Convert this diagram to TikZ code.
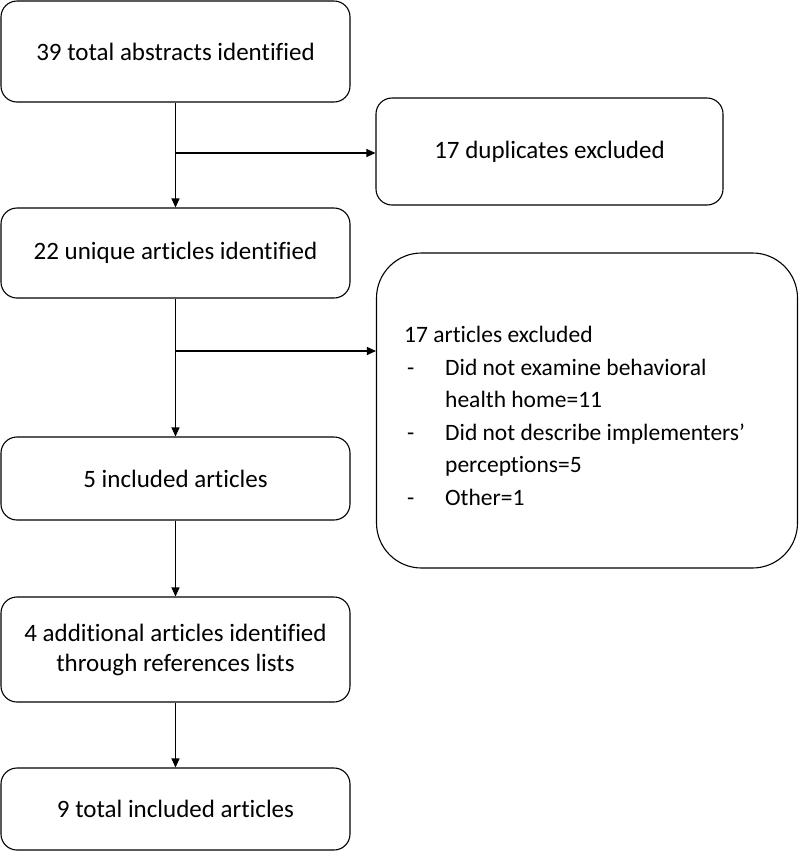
\documentclass[tikz,border=0pt]{standalone}
\usepackage{fontspec}
\setmainfont{Carlito}[Ligatures=CommonOff]
\usetikzlibrary{arrows.meta}
\begin{document}
\begin{tikzpicture}[x=1pt,y=-1pt,
  box/.style={draw=black,line width=1.1pt,rounded corners=16pt,align=center,inner sep=0pt,
    font=\fontsize{25}{30}\selectfont},
  arr/.style={draw=black,line width=1.1pt,-{Triangle[length=9pt,width=8pt]}},
  lst/.style={align=left,inner sep=0pt,font=\fontsize{23.5}{32.5}\selectfont}]
\useasboundingbox (0,0) rectangle (800,852);
\node[box,minimum width=349pt,minimum height=101pt] (b1) at (175.5,51.5) {39 total abstracts identified};
\node[box,minimum width=347pt,minimum height=107pt] (dup) at (549.5,151.5) {17 duplicates excluded};
\node[box,minimum width=349pt,minimum height=90pt] (b2) at (175.5,253) {22 unique articles identified};
\node[box,rounded corners=45pt,minimum width=421pt,minimum height=315pt] (excl) at (587,410.5) {};
\node[lst,anchor=west] (excltext) at (404,416) {17 articles excluded\\
\makebox[41pt][l]{\hspace{3pt}-}Did not examine behavioral\\
\hspace*{41pt}health home=11\\
\makebox[41pt][l]{\hspace{3pt}-}Did not describe implementers’\\
\hspace*{41pt}perceptions=5\\
\makebox[41pt][l]{\hspace{3pt}-}Other=1};
\node[box,minimum width=349pt,minimum height=83pt] (b3) at (175.5,478.5) {5 included articles};
\node[box,minimum width=349pt,minimum height=105pt] (b4) at (175.5,649.5) {4 additional articles identified\\through references lists};
\node[box,minimum width=349pt,minimum height=82pt] (b5) at (175.5,809) {9 total included articles};
\coordinate (j1) at (175,153);
\coordinate (j2) at (175,351);
\draw[arr] (b1) -- (b2);
\draw[arr] (j1) -- (j1 -| dup.west);
\draw[arr] (b2) -- (b3);
\draw[arr] (j2) -- (j2 -| excl.west);
\draw[arr] (b3) -- (b4);
\draw[arr] (b4) -- (b5);
\end{tikzpicture}
\end{document}
